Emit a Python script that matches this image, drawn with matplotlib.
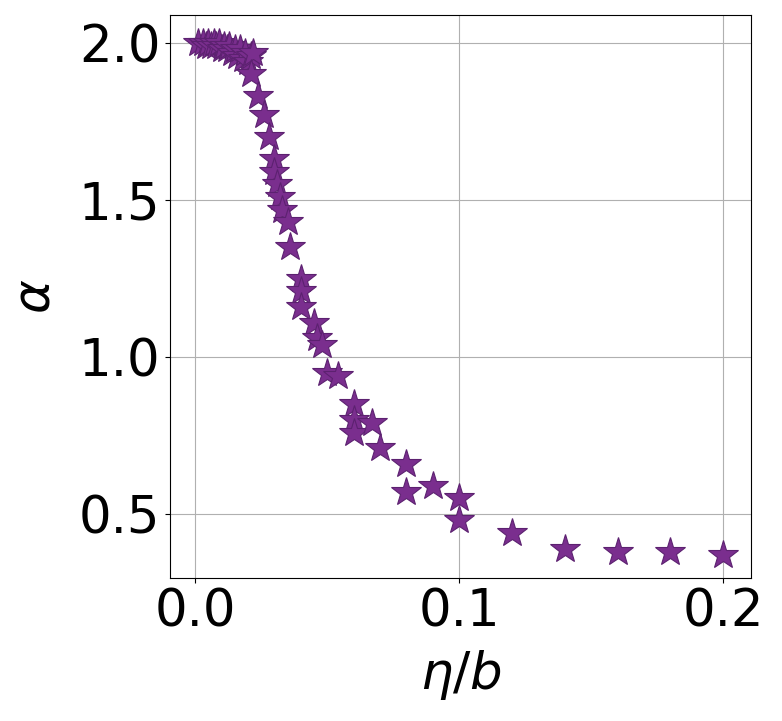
import numpy as np
import matplotlib
matplotlib.use("Agg")
import matplotlib.pyplot as plt

# eta/b and fitted alpha
eta_b = [0.001, 0.003, 0.004, 0.005, 0.006, 0.007, 0.008, 0.009, 0.010, 0.011,
         0.012, 0.013, 0.014, 0.015, 0.016, 0.017, 0.018, 0.019, 0.020, 0.021,
         0.022, 0.021, 0.024, 0.026, 0.028, 0.030, 0.030, 0.031, 0.032, 0.033,
         0.035, 0.036, 0.040, 0.040, 0.040, 0.045, 0.046, 0.048, 0.050, 0.054,
         0.060, 0.060, 0.060, 0.067, 0.070, 0.080, 0.080, 0.090, 0.100, 0.100,
         0.120, 0.140, 0.160, 0.180, 0.200]
alpha = [2.00, 2.00, 1.99, 2.00, 1.99, 2.00, 1.99, 2.00, 1.98, 1.99,
         1.98, 1.99, 1.97, 1.98, 1.96, 1.98, 1.95, 1.97, 1.94, 1.96,
         1.97, 1.90, 1.83, 1.77, 1.70, 1.63, 1.59, 1.55, 1.51, 1.47,
         1.43, 1.35, 1.25, 1.21, 1.16, 1.11, 1.06, 1.04, 0.95, 0.94,
         0.85, 0.80, 0.76, 0.79, 0.71, 0.66, 0.57, 0.59, 0.55, 0.48,
         0.44, 0.39, 0.38, 0.38, 0.37]

plt.rcParams['font.size'] = 37

fig = plt.figure(figsize=(7.82, 7.21), dpi=100)
ax = fig.add_axes([0.2174, 0.198, 0.743, 0.781])
ax.plot(eta_b, alpha, linestyle='none', marker='*', markersize=22,
        markerfacecolor='#7a2e8e', markeredgecolor='#5c2170', markeredgewidth=0.8)
ax.set_xlim(-0.0095, 0.2105)
ax.set_ylim(0.296, 2.089)
ax.set_xticks([0.0, 0.1, 0.2])
ax.set_yticks([0.5, 1.0, 1.5, 2.0])
ax.set_xlabel(r"$\eta/b$", labelpad=7)
ax.set_ylabel(r"$\alpha$", labelpad=13)
ax.grid(True)
ax.set_axisbelow(True)
fig.savefig("out.png", dpi=100)
